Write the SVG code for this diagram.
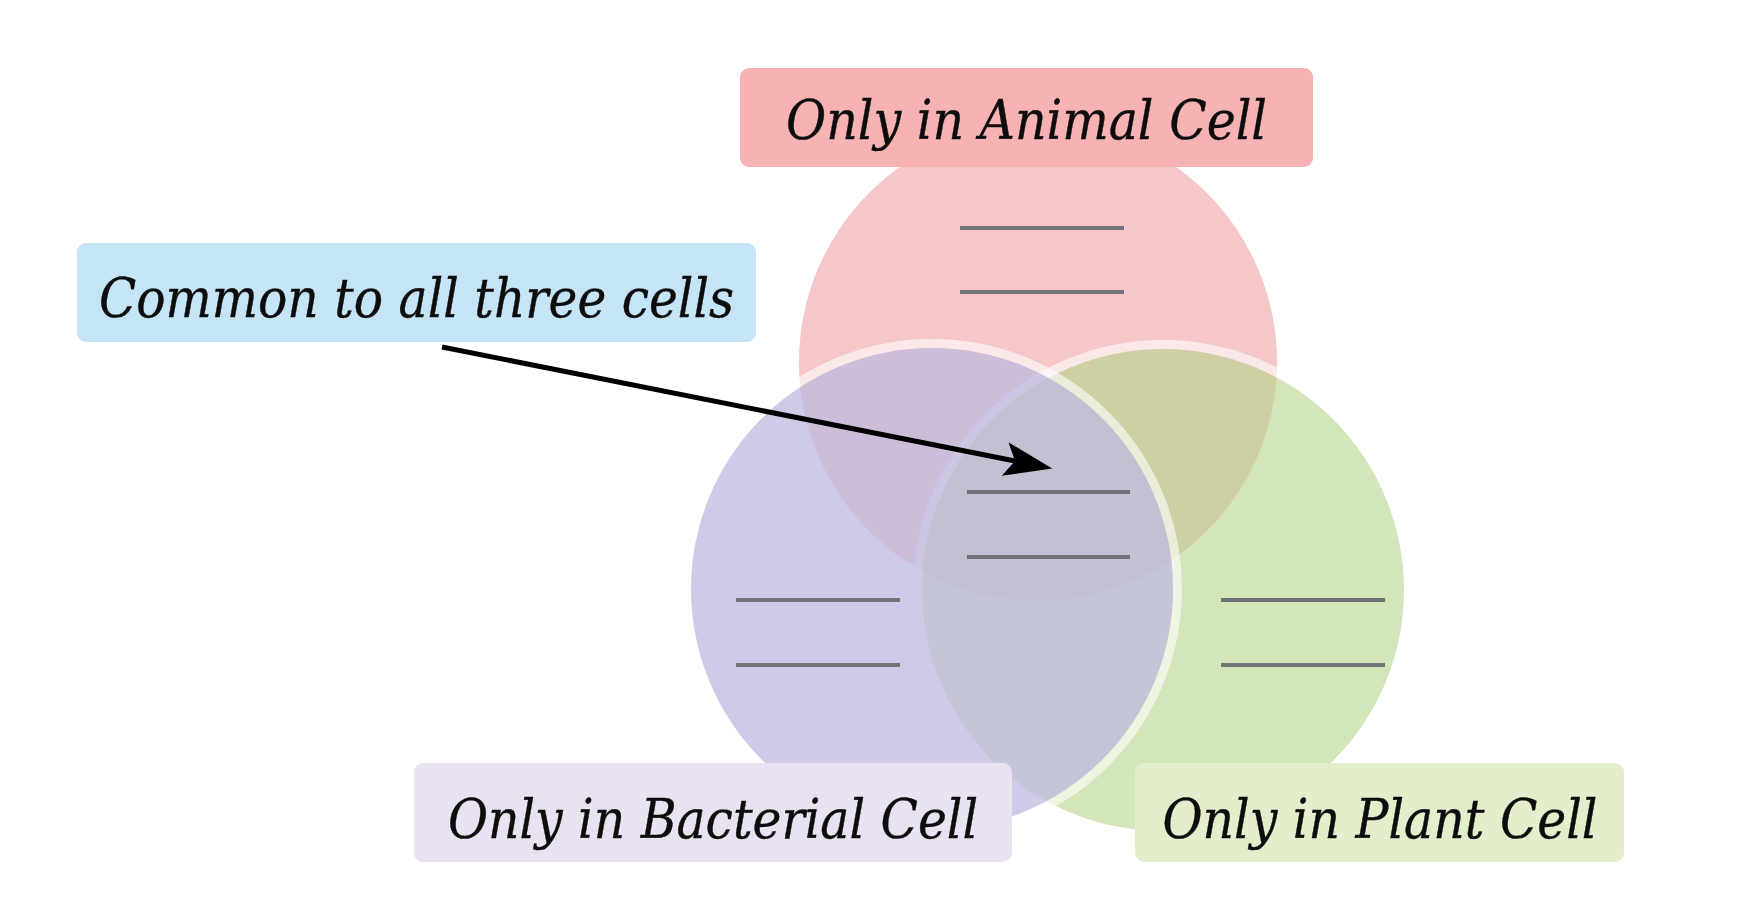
<svg xmlns="http://www.w3.org/2000/svg" width="1740" height="904" viewBox="0 0 1740 904">
  <defs>
    <style>
      .lbl { font-family: "DejaVu Serif", "Liberation Serif", serif; font-style: italic; font-size: 55px; fill: #0d0d0d; stroke: #0d0d0d; stroke-width: 0.4px; text-anchor: middle; }
      .blank { stroke: #727279; stroke-width: 4; fill: none; }
      .ring { fill: none; stroke: #ffffff; stroke-opacity: 0.6; stroke-width: 9; }
      .conn { stroke: #000000; stroke-width: 5; fill: none; }
    </style>
    <marker id="arrowhead" markerUnits="userSpaceOnUse" viewBox="0 0 48 36" markerWidth="48" markerHeight="36" refX="10" refY="18" orient="auto">
      <path d="M0,1 L48,18 L0,35 L10,18 Z" fill="#000000"/>
    </marker>
  </defs>
  <rect x="0" y="0" width="1740" height="904" fill="#ffffff"/>

  <g id="set-animal">
    <circle cx="1038" cy="362" r="239" fill="#f0a2a5" fill-opacity="0.6"/>
  </g>
  <g id="set-plant">
    <circle class="ring" cx="1163" cy="590" r="245.5"/>
    <circle cx="1163" cy="590" r="241" fill="#b4d68c" fill-opacity="0.6"/>
  </g>
  <g id="set-bacterial">
    <circle class="ring" cx="932" cy="589" r="245.5"/>
    <circle cx="932" cy="589" r="241" fill="#c0bbe0" fill-opacity="0.78"/>
  </g>

  <g id="blanks">
    <line class="blank" x1="960" y1="228" x2="1124" y2="228"/>
    <line class="blank" x1="960" y1="292" x2="1124" y2="292"/>
    <line class="blank" x1="967" y1="492" x2="1130" y2="492"/>
    <line class="blank" x1="967" y1="557" x2="1130" y2="557"/>
    <line class="blank" x1="736" y1="600" x2="900" y2="600"/>
    <line class="blank" x1="736" y1="665" x2="900" y2="665"/>
    <line class="blank" x1="1221" y1="600" x2="1385" y2="600"/>
    <line class="blank" x1="1221" y1="665" x2="1385" y2="665"/>
  </g>

  <g id="label-animal">
    <rect x="740" y="68" width="573" height="99" rx="9" fill="#f7b3b4"/>
    <text class="lbl" x="1026.5" y="139" textLength="481" lengthAdjust="spacingAndGlyphs">Only in Animal Cell</text>
  </g>
  <g id="label-common">
    <rect x="77" y="243" width="679" height="99" rx="9" fill="#c5e5f6"/>
    <text class="lbl" x="416.5" y="317" textLength="635" lengthAdjust="spacingAndGlyphs">Common to all three cells</text>
  </g>
  <g id="label-bacterial">
    <rect x="414" y="763" width="598" height="99" rx="9" fill="#e9e3f1"/>
    <text class="lbl" x="713" y="838" textLength="530" lengthAdjust="spacingAndGlyphs">Only in Bacterial Cell</text>
  </g>
  <g id="label-plant">
    <rect x="1135" y="763" width="489" height="99" rx="9" fill="#e3efcc"/>
    <text class="lbl" x="1380" y="838" textLength="435" lengthAdjust="spacingAndGlyphs">Only in Plant Cell</text>
  </g>

  <g id="connectors">
    <line class="conn" x1="442" y1="347" x2="1015" y2="461" marker-end="url(#arrowhead)"/>
  </g>
</svg>
